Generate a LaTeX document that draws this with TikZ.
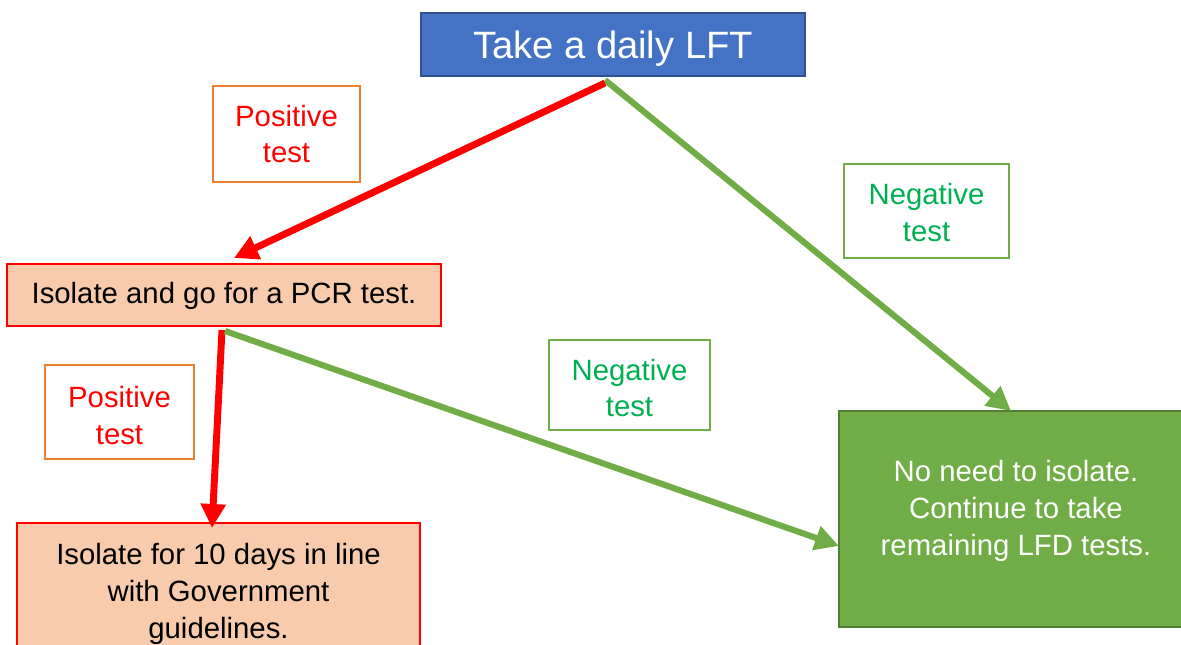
\documentclass[tikz,border=0pt]{standalone}
\usepackage{fontspec}
\setmainfont{Liberation Sans}
\usetikzlibrary{arrows.meta,calc}
\definecolor{boxblue}{HTML}{4472C4}
\definecolor{boxblueline}{HTML}{2F528F}
\definecolor{peach}{HTML}{F8CBAD}
\definecolor{pptred}{HTML}{FF0000}
\definecolor{pptgreen}{HTML}{70AD47}
\definecolor{darkgreen}{HTML}{507E32}
\definecolor{pptorange}{HTML}{ED7D31}
\definecolor{textgreen}{HTML}{00B050}
\begin{document}
\begin{tikzpicture}[x=0.75pt,y=-0.75pt,
  every node/.style={inner sep=0pt,outer sep=0pt,align=center},
  basefont/.style={font=\fontsize{22}{27.5}\selectfont},
  topbox/.style={draw=boxblueline,line width=1.5pt,fill=boxblue},
  toptext/.style={text=white,font=\fontsize{28.6}{34}\selectfont},
  peachbox/.style={draw=pptred,line width=1.5pt,fill=peach},
  btext/.style={text=black,basefont},
  greenbox/.style={draw=darkgreen,line width=1.5pt,fill=pptgreen},
  wtext/.style={text=white,font=\fontsize{22}{27.8}\selectfont},
  poslabel/.style={draw=pptorange,line width=1.1pt,fill=white},
  postext/.style={text=pptred,basefont},
  neglabel/.style={draw=pptgreen,line width=1.1pt,fill=white},
  negtext/.style={text=textgreen,basefont},
  redarrow/.style={draw=pptred,line width=5.2pt,-{Triangle[length=18pt,width=18pt]}},
  greenarrow/.style={draw=pptgreen,line width=4.6pt,-{Triangle[length=18pt,width=18pt]}}]
\useasboundingbox (0,0) rectangle (1181,645);

\node[topbox,minimum width=288pt,minimum height=47.25pt] (top) at (613,44.5) {};
\node[toptext] (toptxt) at (613,48.5) {Take a daily LFT};
\node[peachbox,minimum width=325.5pt,minimum height=46.5pt] (pcr) at (224,295) {};
\node[btext] (pcrtxt) at (224,296) {Isolate and go for a PCR test.};
\node[peachbox,minimum width=302.25pt,minimum height=100.5pt] (iso) at (218.5,590) {};
\node[btext] (isotxt) at (218.5,594) {Isolate for 10 days in line\\with Government\\guidelines.};
\node[greenbox,minimum width=271.5pt,minimum height=162pt] (noneed) at (1020,519) {};
\node[wtext] (noneedtxt) at (1016,511) {No need to isolate.\\Continue to take\\remaining LFD tests.};

\node[poslabel,minimum width=110.25pt,minimum height=72pt] (pos1) at (286.5,134) {};
\node[postext] (pos1txt) at (286.5,134) {Positive\\test};
\node[neglabel,minimum width=123.75pt,minimum height=70.5pt] (neg1) at (926.5,211) {};
\node[negtext] (neg1txt) at (926.5,212.5) {Negative\\test};
\node[neglabel,minimum width=120.75pt,minimum height=67.5pt] (neg2) at (629.5,385) {};
\node[negtext] (neg2txt) at (629.5,388) {Negative\\test};
\node[poslabel,minimum width=111.75pt,minimum height=70.5pt] (pos2) at (119.5,412) {};
\node[postext] (pos2txt) at (119.5,415.5) {Positive\\test};

\draw[greenarrow] ($(top.south)+(-8,4)$) -- ($(noneed.north)+(-9,0)$);
\draw[redarrow] ($(top.south)+(-8,7)$) -- ($(pcr.north)+(10,-6)$);
\draw[redarrow] ($(pcr.south)+(-2,4)$) -- ($(iso.north)+(-6.5,5)$);
\draw[greenarrow] ($(pcr.south)+(1,5)$) -- ($(noneed.west)+(0,27)$);
\end{tikzpicture}
\end{document}
